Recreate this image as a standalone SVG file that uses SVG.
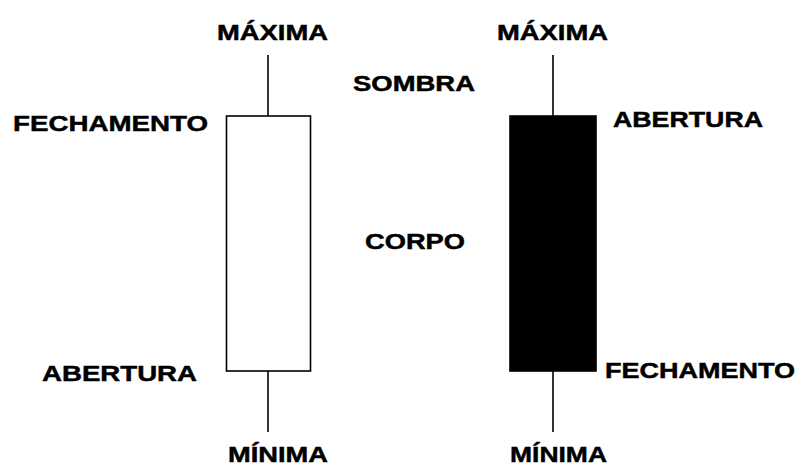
<svg xmlns="http://www.w3.org/2000/svg" width="801" height="466" viewBox="0 0 801 466">
  <style>
    .lbl { font-family: "Liberation Sans", Arial, sans-serif; font-weight: bold; font-size: 21.5px; fill: #000; stroke: #000; stroke-width: 0.45; }
    .wick { stroke: #000; stroke-width: 1.6; fill: none; }
    .body { stroke: #000; stroke-width: 1.6; }
  </style>
  <rect width="801" height="466" fill="#fff"/>

  <!-- wicks -->
  <g id="connectors">
    <line class="wick" x1="268" y1="55" x2="268" y2="116"/>
    <line class="wick" x1="268" y1="371" x2="268" y2="432"/>
    <line class="wick" x1="553" y1="55" x2="553" y2="116"/>
    <line class="wick" x1="553" y1="371" x2="553" y2="432"/>
  </g>

  <!-- bullish candle (hollow) -->
  <g id="candle-up">
    <rect class="body" x="226.5" y="116" width="84" height="255" fill="#fff"/>
  </g>

  <!-- bearish candle (filled) -->
  <g id="candle-down">
    <rect class="body" x="510" y="116" width="86" height="255" fill="#000"/>
  </g>

  <g id="labels">
    <text class="lbl" x="217" y="39.5" textLength="111" lengthAdjust="spacingAndGlyphs">MÁXIMA</text>
    <text class="lbl" x="497" y="39.5" textLength="111" lengthAdjust="spacingAndGlyphs">MÁXIMA</text>
    <text class="lbl" x="353" y="91" textLength="122" lengthAdjust="spacingAndGlyphs">SOMBRA</text>
    <text class="lbl" x="13" y="131" textLength="195" lengthAdjust="spacingAndGlyphs">FECHAMENTO</text>
    <text class="lbl" x="613" y="126.5" textLength="150" lengthAdjust="spacingAndGlyphs">ABERTURA</text>
    <text class="lbl" x="365" y="248.5" textLength="100" lengthAdjust="spacingAndGlyphs">CORPO</text>
    <text class="lbl" x="42" y="380.5" textLength="155" lengthAdjust="spacingAndGlyphs">ABERTURA</text>
    <text class="lbl" x="605" y="377.5" textLength="190" lengthAdjust="spacingAndGlyphs">FECHAMENTO</text>
    <text class="lbl" x="228" y="462" textLength="100" lengthAdjust="spacingAndGlyphs">MÍNIMA</text>
    <text class="lbl" x="510" y="462" textLength="97" lengthAdjust="spacingAndGlyphs">MÍNIMA</text>
  </g>
</svg>
